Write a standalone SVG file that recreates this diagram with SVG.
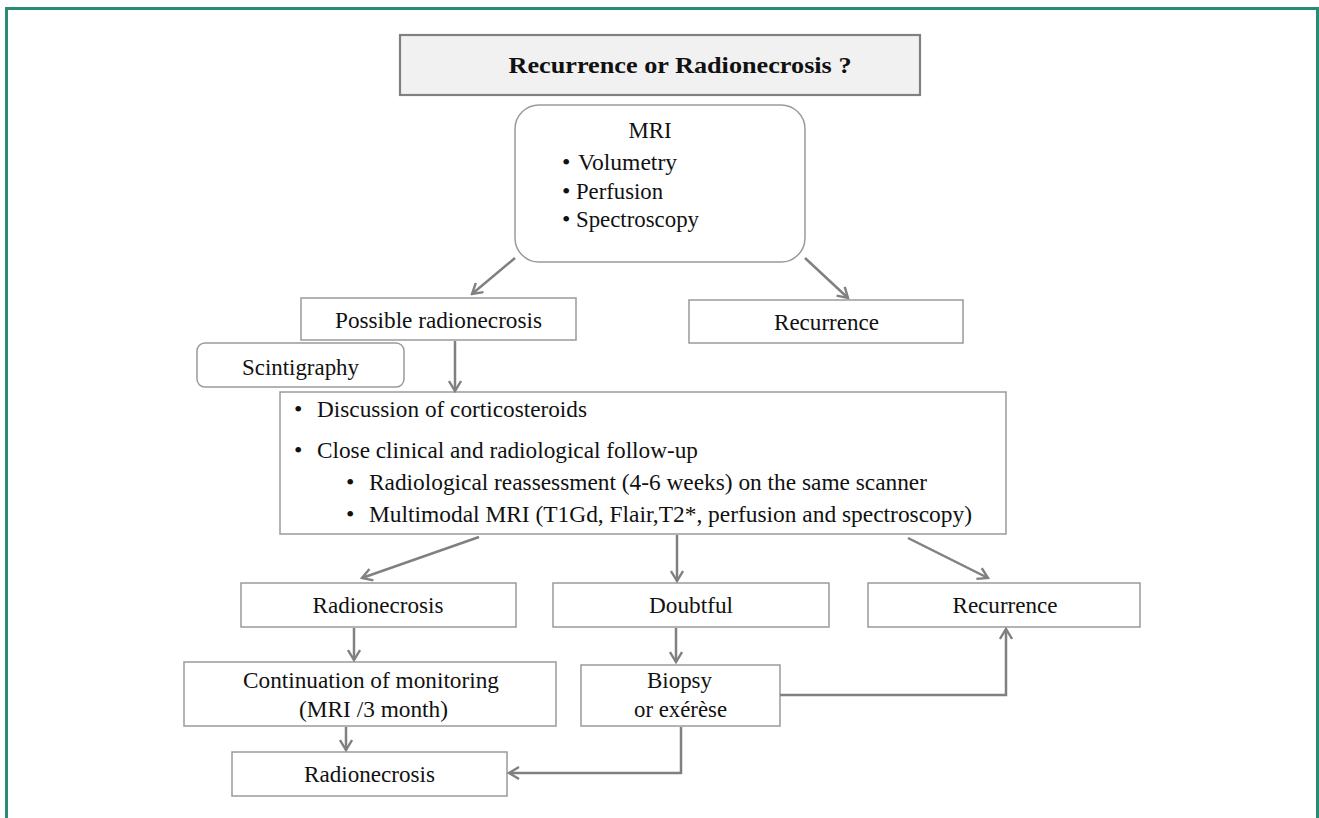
<svg xmlns="http://www.w3.org/2000/svg" width="1319" height="818" viewBox="0 0 1319 818">
<defs>
<marker id="arr" markerUnits="userSpaceOnUse" markerWidth="14" markerHeight="14" viewBox="0 0 14 14" refX="12" refY="7" orient="auto">
<path d="M2,1 L12,7 L2,13" fill="none" stroke="#808080" stroke-width="2.4"/>
</marker>
<style>
.box{fill:#ffffff;stroke:#9a9a9a;stroke-width:1.5}
.t{font-family:"Liberation Serif","Times New Roman",serif;font-size:24px;fill:#111}
.c{text-anchor:middle}
.con{fill:none;stroke:#808080;stroke-width:2.5;marker-end:url(#arr)}
</style>
</defs>
<rect x="0" y="0" width="1319" height="818" fill="#ffffff"/>
<path d="M6.5,818 L6.5,8.5 L1317.5,8.5 L1317.5,818" fill="none" stroke="#2b8a72" stroke-width="3"/>

<g id="title">
<rect x="400" y="35" width="520" height="60" fill="#f1f1f1" stroke="#808080" stroke-width="2.2"/>
<text class="t c" x="680" y="73" font-weight="bold" font-size="24" textLength="343" lengthAdjust="spacingAndGlyphs">Recurrence or Radionecrosis ?</text>
</g>

<g id="mri">
<rect class="box" x="515" y="105" width="290" height="157" rx="24" ry="24"/>
<text class="t c" x="650" y="138" textLength="43" lengthAdjust="spacingAndGlyphs">MRI</text>
<text class="t" x="562" y="170">•</text>
<text class="t" x="578" y="170" textLength="99" lengthAdjust="spacingAndGlyphs">Volumetry</text>
<text class="t" x="562" y="199">•</text>
<text class="t" x="576" y="199" textLength="87" lengthAdjust="spacingAndGlyphs">Perfusion</text>
<text class="t" x="562" y="227">•</text>
<text class="t" x="576" y="227" textLength="123" lengthAdjust="spacingAndGlyphs">Spectroscopy</text>
</g>

<g id="possible">
<rect class="box" x="301" y="298" width="275" height="42"/>
<text class="t c" x="438.5" y="328" textLength="207" lengthAdjust="spacingAndGlyphs">Possible radionecrosis</text>
</g>

<g id="recurrence1">
<rect class="box" x="689" y="300" width="274" height="43"/>
<text class="t c" x="826.5" y="330" textLength="105" lengthAdjust="spacingAndGlyphs">Recurrence</text>
</g>

<g id="scintigraphy">
<rect class="box" x="197" y="343" width="207" height="44" rx="8" ry="8"/>
<text class="t c" x="300.5" y="375" textLength="117" lengthAdjust="spacingAndGlyphs">Scintigraphy</text>
</g>

<g id="management">
<rect class="box" x="280" y="392" width="726" height="142"/>
<text class="t" x="294" y="417">•</text>
<text class="t" x="317" y="417" textLength="270" lengthAdjust="spacingAndGlyphs">Discussion of corticosteroids</text>
<text class="t" x="294" y="458">•</text>
<text class="t" x="317" y="458" textLength="381" lengthAdjust="spacingAndGlyphs">Close clinical and radiological follow-up</text>
<text class="t" x="346" y="490">•</text>
<text class="t" x="369" y="490" textLength="558" lengthAdjust="spacingAndGlyphs">Radiological reassessment (4-6 weeks) on the same scanner</text>
<text class="t" x="346" y="522">•</text>
<text class="t" x="369" y="522" textLength="603" lengthAdjust="spacingAndGlyphs">Multimodal MRI (T1Gd, Flair,T2*, perfusion and spectroscopy)</text>
</g>

<g id="radionecrosis1">
<rect class="box" x="241" y="583" width="275" height="44"/>
<text class="t c" x="378" y="613" textLength="131" lengthAdjust="spacingAndGlyphs">Radionecrosis</text>
</g>

<g id="doubtful">
<rect class="box" x="553" y="583" width="276" height="44"/>
<text class="t c" x="691" y="613" textLength="84" lengthAdjust="spacingAndGlyphs">Doubtful</text>
</g>

<g id="recurrence2">
<rect class="box" x="868" y="583" width="272" height="44"/>
<text class="t c" x="1005" y="613" textLength="105" lengthAdjust="spacingAndGlyphs">Recurrence</text>
</g>

<g id="continuation">
<rect class="box" x="184" y="662" width="372" height="64"/>
<text class="t c" x="371" y="688" textLength="256" lengthAdjust="spacingAndGlyphs">Continuation of monitoring</text>
<text class="t c" x="373.5" y="717" textLength="149" lengthAdjust="spacingAndGlyphs">(MRI /3 month)</text>
</g>

<g id="biopsy">
<rect class="box" x="581" y="665" width="199" height="61"/>
<text class="t c" x="679.5" y="688" textLength="65" lengthAdjust="spacingAndGlyphs">Biopsy</text>
<text class="t c" x="680.5" y="717" textLength="93" lengthAdjust="spacingAndGlyphs">or exérèse</text>
</g>

<g id="radionecrosis2">
<rect class="box" x="232" y="752" width="275" height="44"/>
<text class="t c" x="369.5" y="782" textLength="131" lengthAdjust="spacingAndGlyphs">Radionecrosis</text>
</g>

<g id="connectors">
<line class="con" x1="515" y1="258" x2="472" y2="294"/>
<line class="con" x1="805" y1="258" x2="848" y2="298"/>
<line class="con" x1="455" y1="341" x2="455" y2="391"/>
<line class="con" x1="479" y1="537" x2="362" y2="578"/>
<line class="con" x1="677" y1="535" x2="677" y2="581"/>
<line class="con" x1="908" y1="538" x2="988" y2="578"/>
<line class="con" x1="354" y1="628" x2="354" y2="660"/>
<line class="con" x1="676" y1="628" x2="676" y2="662"/>
<line class="con" x1="346" y1="727" x2="346" y2="750"/>
<polyline class="con" points="780,695 1006,695 1006,629"/>
<polyline class="con" points="681,727 681,773 509,773"/>
</g>
</svg>
